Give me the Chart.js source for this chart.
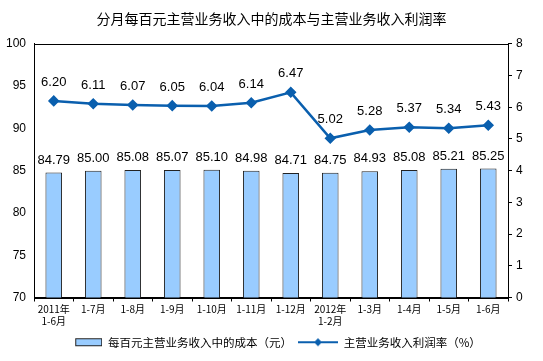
<!DOCTYPE html>
<html lang="zh">

<head>
    <meta charset="UTF-8">
    <title>分月每百元主营业务收入中的成本与主营业务收入利润率</title>
    <script src="https://cdn.jsdelivr.net/npm/chart.js/dist/chart.umd.min.js"></script>
    <style>
        html, body { margin: 0; padding: 0; background: #fff; overflow: hidden; }
    </style>
</head>

<body>
    <canvas id="myChart" width="543" height="361"></canvas>
    <script>
        const months = [
            ['2011年', '1-6月'], '1-7月', '1-8月', '1-9月', '1-10月', '1-11月', '1-12月',
            ['2012年', '1-2月'], '1-3月', '1-4月', '1-5月', '1-6月'
        ];
        const costPer100 = [84.79, 85.00, 85.08, 85.07, 85.10, 84.98, 84.71, 84.75, 84.93, 85.08, 85.21, 85.25];
        const profitRate = [6.20, 6.11, 6.07, 6.05, 6.04, 6.14, 6.47, 5.02, 5.28, 5.37, 5.34, 5.43];
        const leftTicks = [70, 75, 80, 85, 90, 95, 100];
        const rightTicks = [0, 1, 2, 3, 4, 5, 6, 7, 8];

        const cjk = '"Noto Sans CJK SC", sans-serif';
        const num = '"Liberation Sans", Arial, sans-serif';
        const lineColor = '#0a5fae';

        // legend swatches
        function swatch(kind) {
            const c = document.createElement('canvas');
            c.width = 40; c.height = 10;
            const g = c.getContext('2d');
            if (kind === 'bar') {
                g.fillStyle = '#99ccff';
                g.fillRect(13.5, 1.5, 26, 7);
                g.strokeStyle = '#222';
                g.lineWidth = 1;
                g.strokeRect(13.5, 1.5, 26, 7);
            } else {
                g.strokeStyle = lineColor;
                g.lineWidth = 2;
                g.beginPath(); g.moveTo(0, 5); g.lineTo(40, 5); g.stroke();
                g.fillStyle = lineColor;
                g.beginPath(); g.moveTo(20, 1); g.lineTo(24, 5); g.lineTo(20, 9); g.lineTo(16, 5); g.closePath(); g.fill();
            }
            return c;
        }

        const frame = {
            id: 'frame',
            afterDraw(chart) {
                const a = chart.chartArea, ctx = chart.ctx;
                ctx.save();
                ctx.strokeStyle = '#000';
                ctx.lineWidth = 1;
                ctx.strokeRect(Math.round(a.left) + 0.5, Math.round(a.top) + 0.5,
                    Math.round(a.right - a.left), Math.round(a.bottom - a.top));
                ctx.restore();
            }
        };

        // value labels above bars and points
        const valueLabels = {
            id: 'valueLabels',
            afterDatasetsDraw(chart) {
                const ctx = chart.ctx;
                ctx.save();
                ctx.font = '13px ' + num;
                ctx.fillStyle = '#000';
                ctx.textAlign = 'center';
                ctx.textBaseline = 'bottom';
                chart.getDatasetMeta(0).data.forEach((el, i) => {
                    ctx.fillText(costPer100[i].toFixed(2), el.x, el.y - 6);
                });
                chart.getDatasetMeta(1).data.forEach((el, i) => {
                    ctx.fillText(profitRate[i].toFixed(2), el.x, el.y - 12);
                });
                ctx.restore();
            }
        };

        const data = {
            labels: months,
            datasets: [{
                type: 'bar',
                label: '每百元主营业务收入中的成本（元）',
                data: costPer100,
                backgroundColor: '#99ccff',
                borderColor: '#222',
                borderWidth: 1,
                barPercentage: 0.42,
                categoryPercentage: 1,
                yAxisID: 'y',
                order: 2
            }, {
                type: 'line',
                label: '主营业务收入利润率（%）',
                data: profitRate,
                borderColor: lineColor,
                backgroundColor: lineColor,
                borderWidth: 2.5,
                pointStyle: 'rectRot',
                pointRadius: 4,
                tension: 0,
                yAxisID: 'y1',
                order: 1
            }]
        };

        const config = {
            data: data,
            plugins: [frame, valueLabels],
            options: {
                responsive: false,
                animation: false,
                layout: { padding: { left: 0, right: 0, top: 0, bottom: 3 } },
                plugins: {
                    tooltip: { enabled: false },
                    title: {
                        display: true,
                        text: '分月每百元主营业务收入中的成本与主营业务收入利润率',
                        color: '#000',
                        font: { family: cjk, size: 14, weight: 'normal' },
                        padding: { top: 10, bottom: 17 }
                    },
                    legend: {
                        position: 'bottom',
                        labels: {
                            color: '#000',
                            font: { family: cjk, size: 11.5 },
                            usePointStyle: true,
                            pointStyleWidth: 40,
                            padding: 6,
                            generateLabels: () => [
                                { text: data.datasets[0].label, pointStyle: swatch('bar'), datasetIndex: 0, lineWidth: 0, fontColor: '#000' },
                                { text: data.datasets[1].label, pointStyle: swatch('line'), datasetIndex: 1, lineWidth: 0, fontColor: '#000' }
                            ]
                        }
                    }
                },
                scales: {
                    x: {
                        offset: true,
                        grid: { display: true, drawOnChartArea: false, offset: true, color: '#000', tickLength: 4 },
                        border: { color: '#000' },
                        ticks: { color: '#000', font: { family: cjk, size: 10 }, maxRotation: 0, autoSkip: false, padding: 2 },
                        afterFit(s) { s.height = 33; }
                    },
                    y: {
                        position: 'left',
                        min: 70, max: 100,
                        afterBuildTicks(s) { s.ticks = leftTicks.map(v => ({ value: v })); },
                        grid: { display: true, drawOnChartArea: false, color: '#000', tickLength: 0 },
                        border: { color: '#000' },
                        ticks: { color: '#000', font: { family: num, size: 12 }, padding: 8 },
                        afterFit(s) { s.width = 34; }
                    },
                    y1: {
                        position: 'right',
                        min: 0, max: 8,
                        afterBuildTicks(s) { s.ticks = rightTicks.map(v => ({ value: v })); },
                        grid: { display: true, drawOnChartArea: false, color: '#000', tickLength: 4 },
                        border: { color: '#000' },
                        ticks: { color: '#000', font: { family: num, size: 12 }, padding: 4 },
                        afterFit(s) { s.width = 35; }
                    }
                }
            }
        };

        const myChart = new Chart(document.getElementById('myChart'), config);
    </script>
</body>

</html>
